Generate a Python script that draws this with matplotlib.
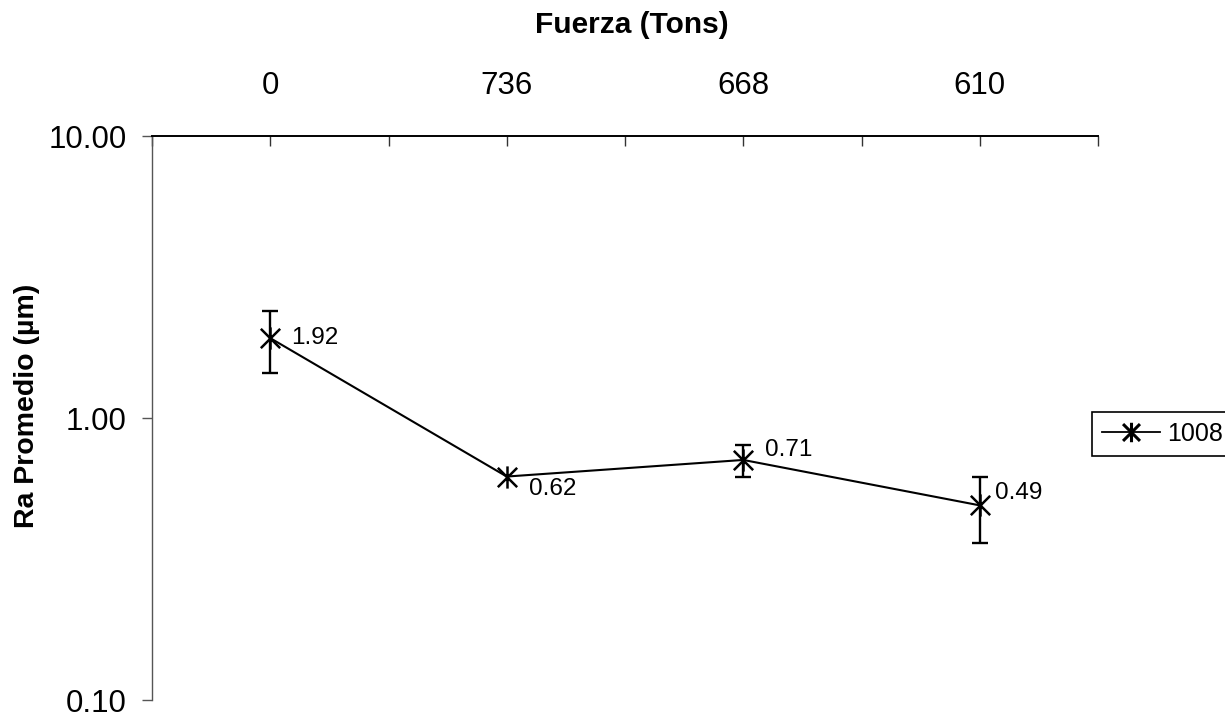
import matplotlib
matplotlib.use("Agg")
import matplotlib.pyplot as plt
import numpy as np
from matplotlib.path import Path
from matplotlib.ticker import FixedLocator, FixedFormatter, FormatStrFormatter
from matplotlib.lines import Line2D

plt.rcParams["font.family"] = ["Liberation Sans", "DejaVu Sans"]

fuerza = ["0", "736", "668", "610"]
ra_mean = [1.92, 0.62, 0.71, 0.49]
ra_err = [0.48, np.nan, 0.09, 0.13]
serie = "1008"

x = np.arange(len(fuerza))

# asterisk marker: X crossed by a vertical bar
star = Path(
    [(-1, -1), (1, 1), (-1, 1), (1, -1), (0, -1.15), (0, 1.15)],
    [Path.MOVETO, Path.LINETO, Path.MOVETO, Path.LINETO, Path.MOVETO, Path.LINETO],
)

fig = plt.figure(figsize=(12.25, 7.17), dpi=100)
fig.patch.set_facecolor("white")
ax = fig.add_axes([152 / 1225, 17 / 717, (1098 - 152) / 1225, (700 - 136) / 717])

ax.errorbar(x, ra_mean, yerr=ra_err, fmt="none", ecolor="black",
            elinewidth=1.7, capsize=6, capthick=1.7, zorder=2)
ax.plot(x, ra_mean, color="black", linewidth=1.5, marker=star, markersize=16,
        markeredgewidth=1.8, markerfacecolor="none", markeredgecolor="black",
        zorder=3)

# value labels next to each point
offsets = [(15, 0), (16, -9), (16, 7), (11, 9)]
for xi, yi, (dx, dy) in zip(x, ra_mean, offsets):
    ax.annotate(f"{yi:.2f}", (xi, yi), xytext=(dx, dy), textcoords="offset points",
                ha="left", va="center", fontsize=17.5)

ax.set_yscale("log")
ax.set_ylim(0.1, 10)
ax.set_xlim(-0.5, len(fuerza) - 0.5)

ax.yaxis.set_major_locator(FixedLocator([0.1, 1, 10]))
ax.yaxis.set_major_formatter(FormatStrFormatter("%.2f"))
ax.yaxis.set_minor_locator(FixedLocator([]))
ax.tick_params(axis="y", which="major", direction="out", length=7, width=1,
               color="#555555", labelsize=22.5, pad=11)

ax.xaxis.tick_top()
ax.xaxis.set_major_locator(FixedLocator(x))
ax.xaxis.set_major_formatter(FixedFormatter(fuerza))
ax.xaxis.set_minor_locator(FixedLocator(np.arange(-0.5, len(fuerza), 1.0)))
ax.tick_params(axis="x", which="both", direction="in", length=7, width=1,
               color="#333333", labelsize=22.5, pad=25)

for side in ["bottom", "right"]:
    ax.spines[side].set_visible(False)
ax.spines["top"].set_linewidth(1.4)
ax.spines["left"].set_color("#555555")
ax.spines["left"].set_linewidth(1.0)

fig.text(632 / 1225, 1 - 25 / 717, "Fuerza (Tons)", ha="center", va="center",
         fontsize=21.5, fontweight="bold")
fig.text(27 / 1225, 1 - 406 / 717, "Ra Promedio (µm)", ha="center", va="center",
         rotation=90, fontsize=20.5, fontweight="bold")

handle = Line2D([0], [0], color="black", linewidth=1.3, marker=star, markersize=14,
                markeredgewidth=2.2, markerfacecolor="none", markeredgecolor="black")
leg = fig.legend(handles=[handle], labels=[serie], loc="center left",
                 bbox_to_anchor=(1092 / 1225, 1 - 434 / 717), fontsize=18,
                 frameon=True, fancybox=False, framealpha=1.0, edgecolor="black",
                 handlelength=2.3, handletextpad=0.3, borderpad=0.4,
                 borderaxespad=0)
leg.get_frame().set_linewidth(1.2)

fig.savefig("out.png", dpi=100, facecolor="white")
plt.close(fig)
